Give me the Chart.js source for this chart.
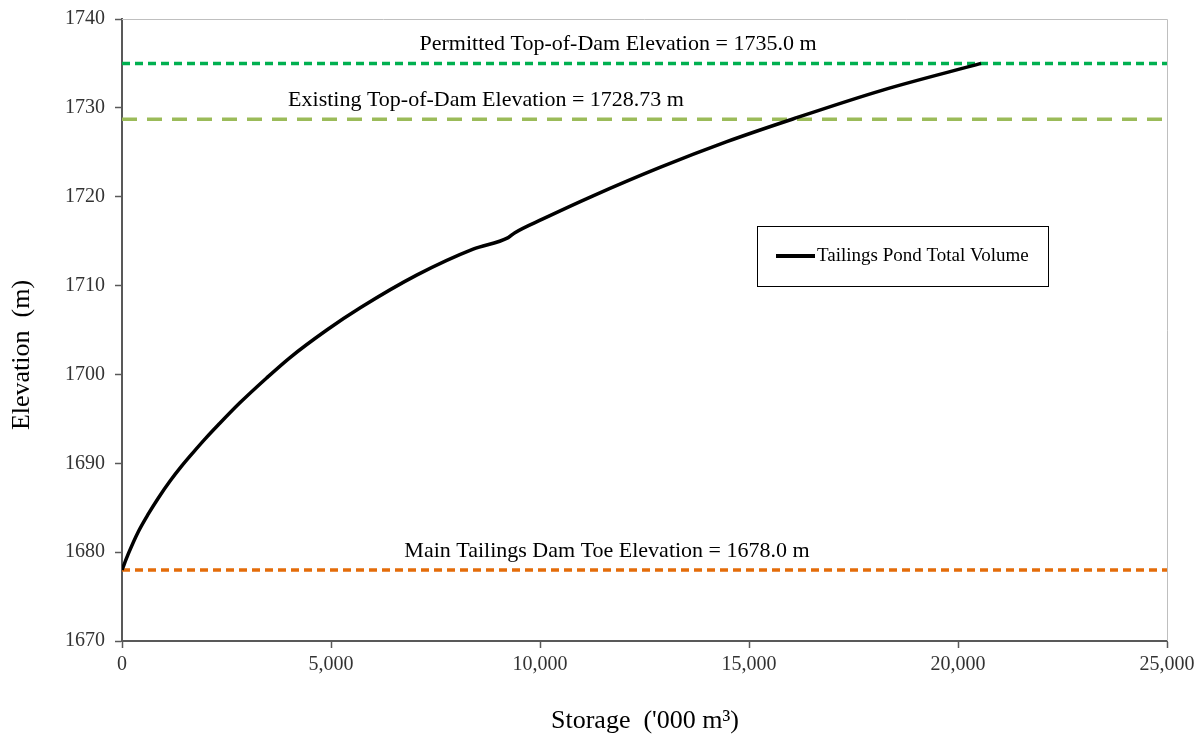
<!DOCTYPE html>
<html>
<head>
<meta charset="utf-8">
<script src="https://cdn.jsdelivr.net/npm/chart.js@4.4.1/dist/chart.umd.min.js"></script>
<style>
  html, body { margin: 0; padding: 0; background: #fff; }
  #wrap { width: 1200px; height: 735px; }
</style>
</head>
<body>
<div id="wrap"><canvas id="storageChart" width="1200" height="735"></canvas></div>
<script>
// ***** data ***** //
const storage = [0, 150, 390, 630, 870, 1150, 1430, 1700, 2000, 2300, 2820, 3460, 4020, 4900, 5700, 7060, 8400, 9240, 9400, 10070, 11270, 12870, 14470, 16050, 18200, 20550];
const elevation = [1678, 1679.8, 1682.3, 1684.3, 1686.1, 1688.0, 1689.7, 1691.2, 1692.8, 1694.3, 1696.8, 1699.6, 1701.9, 1705.0, 1707.5, 1711.2, 1714.1, 1715.4, 1715.95, 1717.5, 1720.1, 1723.3, 1726.2, 1728.75, 1732.0, 1735.0];

const xRange = [0, 25000];
const yRange = [1670, 1740];

const refNames = ['Permitted Top-of-Dam Elevation = 1735.0 m', 'Existing Top-of-Dam Elevation = 1728.73 m', 'Main Tailings Dam Toe Elevation = 1678.0 m'];
const refLevels = [1735.0, 1728.73, 1678.0];
const refColors = ['#00B050', '#9BBB59', '#E46C0A'];
const refDashes = [[8, 5], [15, 10], [8, 5]];
const refLabelX = [618, 486, 607];

const seriesName = 'Tailings Pond Total Volume';
const xTitle = "Storage  ('000 m³)";
const yTitle = 'Elevation  (m)';

const serif = '"Liberation Serif", "Times New Roman", serif';

// reference line datasets
const refSets = refLevels.map(function (lv, i) {
    return {
        label: refNames[i],
        data: [{ x: xRange[0], y: lv }, { x: xRange[1], y: lv }],
        borderColor: refColors[i],
        borderWidth: 3.5,
        borderDash: refDashes[i],
        pointRadius: 0,
        fill: false
    };
});

// labels, titles, legend box and light frame
const extras = {
    id: 'extras',
    afterDatasetsDraw(chart) {
        const c = chart.ctx;
        const a = chart.chartArea;
        const ys = chart.scales.y;
        c.save();
        // top and right frame
        c.strokeStyle = '#bfbfbf';
        c.lineWidth = 1;
        c.beginPath();
        c.moveTo(a.left, a.top + 0.5);
        c.lineTo(a.right + 0.5, a.top + 0.5);
        c.lineTo(a.right + 0.5, a.bottom);
        c.stroke();

        // reference labels
        c.fillStyle = '#000';
        c.font = '22px ' + serif;
        c.textAlign = 'center';
        c.textBaseline = 'middle';
        refLevels.forEach(function (lv, i) {
            c.fillText(refNames[i], refLabelX[i], ys.getPixelForValue(lv) - 19);
        });

        // axis titles
        c.font = '26px ' + serif;
        c.fillText(xTitle, 645, 721);
        c.save();
        c.translate(22, 355);
        c.rotate(-Math.PI / 2);
        c.fillText(yTitle, 0, 0);
        c.restore();

        // legend box
        c.strokeStyle = '#000';
        c.lineWidth = 1;
        c.strokeRect(757.5, 226.5, 291, 60);
        c.lineWidth = 4;
        c.beginPath();
        c.moveTo(776, 256);
        c.lineTo(815, 256);
        c.stroke();
        c.font = '19px ' + serif;
        c.textAlign = 'left';
        c.fillText(seriesName, 817, 256);
        c.restore();
    }
};

const ctx = document.getElementById('storageChart');
if (ctx) {
    const storageChart = new Chart(ctx, {
        type: 'line',
        data: {
            datasets: [{
                label: seriesName,
                data: storage.map(function (s, i) { return { x: s, y: elevation[i] }; }),
                borderColor: '#000',
                borderWidth: 3.5,
                pointRadius: 0,
                cubicInterpolationMode: 'monotone',
                fill: false
            }].concat(refSets)
        },
        options: {
            responsive: false,
            animation: false,
            layout: { padding: { left: 0, top: 19, right: 33, bottom: 0 } },
            plugins: {
                legend: { display: false },
                tooltip: { enabled: false }
            },
            scales: {
                x: {
                    type: 'linear',
                    min: xRange[0],
                    max: xRange[1],
                    ticks: {
                        stepSize: 5000,
                        padding: 5,
                        color: '#333',
                        font: { family: serif, size: 20 },
                        callback: function (v) { return v.toLocaleString('en-US'); }
                    },
                    grid: { drawOnChartArea: false, tickLength: 7, tickColor: '#595959', tickWidth: 1.5 },
                    border: { color: '#595959', width: 2 },
                    afterFit: function (s) { s.height = 94; s.paddingLeft = 0; s.paddingRight = 0; }
                },
                y: {
                    min: yRange[0],
                    max: yRange[1],
                    ticks: {
                        stepSize: 10,
                        padding: 10,
                        color: '#333',
                        font: { family: serif, size: 20 },
                        callback: function (v) { return String(v); }
                    },
                    grid: { drawOnChartArea: false, tickLength: 7, tickColor: '#595959', tickWidth: 1.5 },
                    border: { color: '#595959', width: 2 },
                    afterFit: function (s) { s.width = 122; s.paddingTop = 0; s.paddingBottom = 0; }
                }
            }
        },
        plugins: [extras]
    });
}
</script>
</body>
</html>
